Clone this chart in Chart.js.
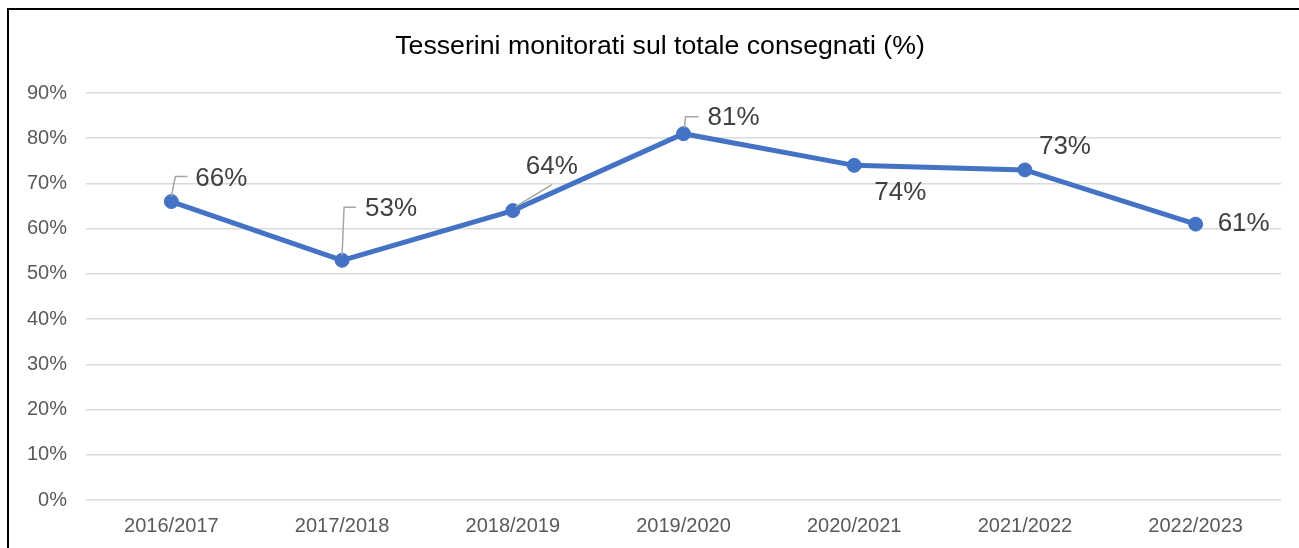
<!DOCTYPE html>
<html>
<head>
<meta charset="utf-8">
<script src="https://cdn.jsdelivr.net/npm/chart.js@4/dist/chart.umd.min.js"></script>
<style>
  html, body { margin: 0; padding: 0; background: #fff; }
  #wrap { position: relative; width: 1299px; height: 548px; overflow: hidden; }
  #frame { position: absolute; left: 7px; top: 8px; width: 1400px; height: 600px;
           border-top: 2px solid #000; border-left: 2px solid #000; pointer-events: none; }
  canvas { position: absolute; left: 0; top: 0; }
</style>
</head>
<body>
<div id="wrap">
  <canvas id="c" width="1299" height="548"></canvas>
  <div id="frame"></div>
</div>
<script>
const categories = ['2016/2017', '2017/2018', '2018/2019', '2019/2020', '2020/2021', '2021/2022', '2022/2023'];
const values = [66, 53, 64, 81, 74, 73, 61];
const yTicks = [0, 10, 20, 30, 40, 50, 60, 70, 80, 90];
const chartTitle = 'Tesserini monitorati sul totale consegnati (%)';

// label placement relative to each point (pixels): text left, text middle
const labelDx = [24, 23, 13, 24, 20, 14, 22];
const labelDy = [-23, -51, -44, -16, 27, -23, 0];
// leader lines relative to each point (null = none)
const leaders = [
  [[0, -5], [4, -25], [16, -25]],
  [[0, -5], [2, -53], [14, -53]],
  [[3, -4], [39, -26]],
  [[1, -6], [2, -17], [15, -17]],
  null, null, null
];

const labelPlugin = {
  id: 'pointLabels',
  afterDatasetsDraw(chart) {
    const ctx = chart.ctx;
    const meta = chart.getDatasetMeta(0);
    ctx.save();
    meta.data.forEach((pt, i) => {
      const x = pt.x, y = pt.y;
      const ld = leaders[i];
      if (ld) {
        ctx.beginPath();
        ctx.strokeStyle = '#a6a6a6';
        ctx.lineWidth = 1.5;
        ld.forEach((p, k) => {
          if (k === 0) ctx.moveTo(x + p[0], y + p[1]);
          else ctx.lineTo(x + p[0], y + p[1]);
        });
        ctx.stroke();
      }
      ctx.fillStyle = '#404040';
      ctx.font = '26px "Liberation Sans", Arial, sans-serif';
      ctx.textAlign = 'left';
      ctx.textBaseline = 'middle';
      ctx.fillText(values[i] + '%', x + labelDx[i], y + labelDy[i]);
    });
    // title
    ctx.fillStyle = '#000000';
    ctx.font = '26.7px "Liberation Sans", Arial, sans-serif';
    ctx.textAlign = 'center';
    ctx.textBaseline = 'alphabetic';
    ctx.fillText(chartTitle, 660, 53.5);
    ctx.restore();
  }
};

new Chart(document.getElementById('c'), {
  type: 'line',
  data: {
    labels: categories,
    datasets: [{
      data: values,
      borderColor: '#4472C4',
      backgroundColor: '#4472C4',
      borderWidth: 5,
      pointRadius: 7,
      pointBorderWidth: 1,
      pointBackgroundColor: '#4472C4',
      pointBorderColor: '#4472C4',
      tension: 0,
      fill: false
    }]
  },
  options: {
    responsive: false,
    animation: false,
    events: [],
    layout: { padding: { left: 0, right: 18, top: 93, bottom: 0 } },
    plugins: {
      legend: { display: false },
      tooltip: { enabled: false },
      title: { display: false }
    },
    scales: {
      x: {
        offset: true,
        grid: { display: false, drawTicks: false, offset: true },
        border: { display: false },
        ticks: {
          color: '#595959',
          font: { family: '"Liberation Sans", Arial, sans-serif', size: 20 },
          padding: 14,
          maxRotation: 0,
          autoSkip: false
        },
        afterFit(scale) { scale.height = 48; }
      },
      y: {
        min: 0,
        max: 90,
        afterBuildTicks(scale) { scale.ticks = yTicks.map(v => ({ value: v })); },
        grid: { color: '#d9d9d9', lineWidth: 1.5, drawTicks: false },
        border: { display: false },
        ticks: {
          color: '#595959',
          font: { family: '"Liberation Sans", Arial, sans-serif', size: 20 },
          padding: 19,
          callback: v => v + '%'
        },
        afterFit(scale) { scale.width = 86; }
      }
    }
  },
  plugins: [labelPlugin]
});
</script>
</body>
</html>
